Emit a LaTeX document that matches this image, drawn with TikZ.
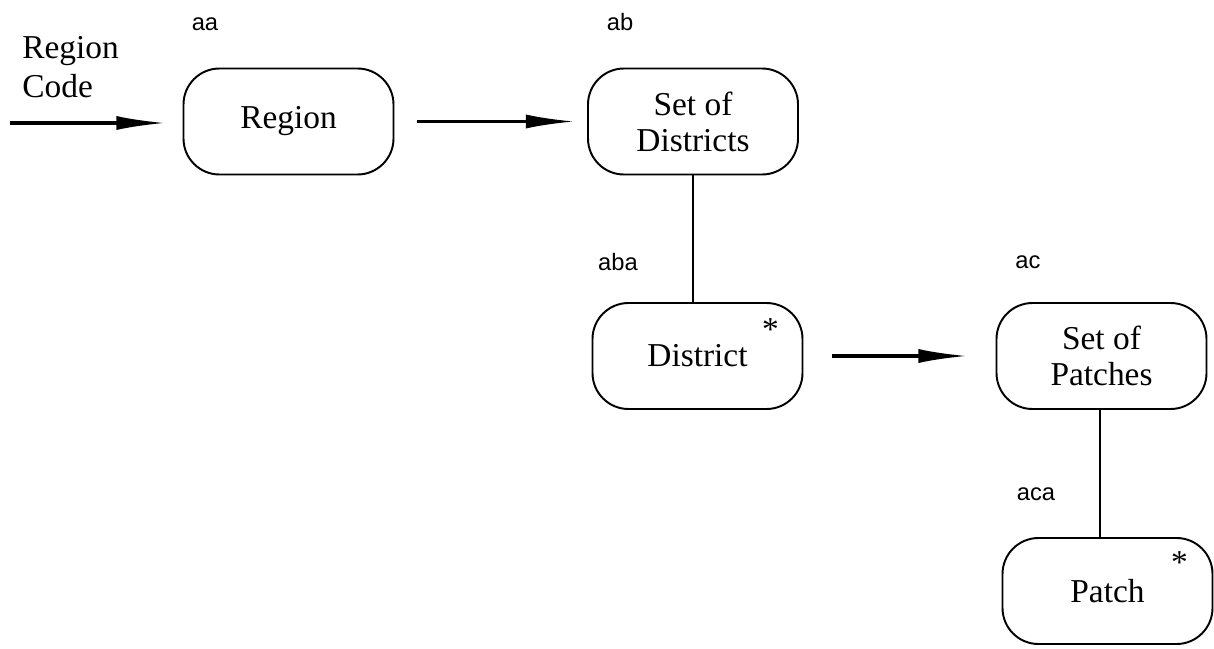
\documentclass[tikz,border=0pt]{standalone}
\usepackage{fontspec}
\setmainfont{Liberation Serif}
\newfontfamily\tagfont{Liberation Sans}
\usepackage{tikz}
\usetikzlibrary{arrows.meta,calc}

\begin{document}
\begin{tikzpicture}[
  box/.style={draw, line width=1.1pt, rounded corners=0.72cm, align=center,
    minimum width=4.2cm, minimum height=2.12cm, font=\fontsize{19}{20.5}\selectfont},
  flow/.style={line width=1.8pt, -{Latex[length=28pt,width=8pt]}},
  link/.style={line width=1.3pt},
  tag/.style={anchor=base, font=\tagfont\fontsize{13.5}{15}\selectfont},
  star/.style={inner sep=0pt, font=\fontsize{19}{20}\selectfont}]
\useasboundingbox (0,0) rectangle (24.28,-12.96);

\node[box] (region) at (5.77,-2.43) {Region};
\node[box] (setdist) at (13.86,-2.43) {Set of\\Districts};
\node[box] (district) at (13.95,-7.12) {District};
\node[box] (setpatch) at (22.03,-7.12) {Set of\\Patches};
\node[box] (patch) at (22.15,-11.82) {Patch};

\node[star] (dstar) at ([shift={(-0.66,-0.56)}]district.north east) {*};
\node[star] (pstar) at ([shift={(-0.68,-0.52)}]patch.north east) {*};

\node[tag] (aa) at (4.10,-0.60) {aa};
\node[tag] (ab) at (12.40,-0.60) {ab};
\node[tag] (aba) at (12.36,-5.40) {aba};
\node[tag] (ac) at (20.56,-5.36) {ac};
\node[tag] (aca) at (20.72,-10.00) {aca};

\node[anchor=base west, align=left, inner sep=0pt, font=\fontsize{19}{22}\selectfont]
  (code) at (0.44,-1.94) {Region\\Code};
\coordinate (in) at (0.20,-2.46);

\draw[flow] (in) -- ([xshift=-0.34cm]region.west |- in);
\draw[flow, shorten <=0.46cm, shorten >=0.24cm] (region) -- (setdist);
\draw[flow, shorten <=0.58cm, shorten >=0.56cm] (district) -- (setpatch);
\draw[link] (setdist.south) -- (setdist.south |- district.north);
\draw[link] ([xshift=-0.03cm]setpatch.south) -- ([xshift=-0.03cm]setpatch.south |- patch.north);
\end{tikzpicture}
\end{document}
